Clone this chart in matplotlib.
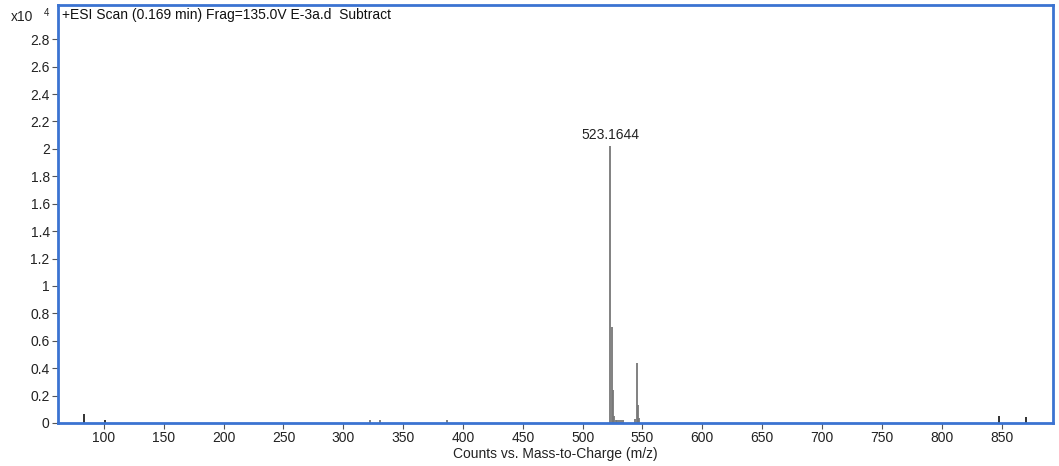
import matplotlib
matplotlib.use("Agg")
import matplotlib.pyplot as plt
import numpy as np

# peak list (m/z, counts x10^4)
mz = [83.5, 101.0, 322.0, 330.5, 387.0,
      523.1644, 524.17, 525.17, 526.17, 527.5, 529.0, 530.5, 532.0, 534.0,
      543.5, 545.15, 546.15, 547.15,
      848.0, 870.5]
counts = [0.066, 0.025, 0.025, 0.025, 0.025,
          2.02, 0.70, 0.24, 0.05, 0.02, 0.02, 0.02, 0.02, 0.02,
          0.03, 0.44, 0.13, 0.04,
          0.05, 0.045]

labelled_mz = 523.1644
labelled_count = 2.02

x_ticks = np.arange(100, 851, 50)
y_ticks = np.round(np.arange(0, 2.81, 0.2), 1)

title = "+ESI Scan (0.169 min) Frag=135.0V E-3a.d  Subtract"
xlabel = "Counts vs. Mass-to-Charge (m/z)"

plt.rcParams['font.family'] = ['Liberation Sans', 'DejaVu Sans']

fig = plt.figure(figsize=(10.59, 4.66), dpi=100)
ax = fig.add_axes([0.0548, 0.0923, 0.9395, 0.897])

colors = ['#222222' if (m < 150 or m > 800) else '#777777' for m in mz]
ax.vlines(mz, 0, counts, colors=colors, linewidth=1.3)

ax.text(labelled_mz, labelled_count + 0.03, f"{labelled_mz:.4f}",
        ha='center', va='bottom', fontsize=10, color='#222222')

ax.set_xlim(61.6, 893)
ax.set_ylim(0, 3.05)
ax.set_xticks(x_ticks)
ax.set_yticks(y_ticks)
ax.set_yticklabels([f"{v:g}" for v in y_ticks])
ax.tick_params(axis='both', direction='out', length=4, width=0.8,
               color='#555555', labelsize=10, labelcolor='#222222', pad=2)

for s in ax.spines.values():
    s.set_color('#3b73d1')
    s.set_linewidth(2)

ax.text(0.004, 0.993, title, transform=ax.transAxes, ha='left', va='top',
        fontsize=10, color='#111111')
fig.text(0.010, 0.963, "x10", fontsize=10, color='#222222', va='center')
fig.text(0.041, 0.972, "4", fontsize=7, color='#222222', va='center')

ax.set_xlabel(xlabel, fontsize=10, color='#222222', labelpad=1)

fig.savefig("out.png", dpi=100)
